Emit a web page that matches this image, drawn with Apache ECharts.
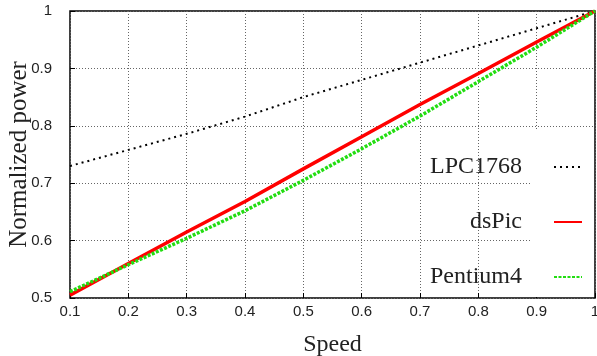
<!DOCTYPE html>
<html>
<head>
<meta charset="utf-8">
<script src="https://cdn.jsdelivr.net/npm/echarts@6/dist/echarts.min.js"></script>
<style>
  html, body { margin: 0; padding: 0; background: #fff; }
  #chart { width: 597px; height: 356px; }
</style>
</head>
<body>
<div id="chart"></div>
<script>
const speed = [0.1, 0.2, 0.3, 0.4, 0.5, 0.6, 0.7, 0.8, 0.9, 1.0];
const lpc1768 = [0.73, 0.758, 0.786, 0.816, 0.85, 0.88, 0.91, 0.94, 0.97, 1.0];
const dsPic = [0.505, 0.56, 0.615, 0.668, 0.725, 0.781, 0.837, 0.891, 0.946, 1.0];
const pentium4 = [0.511, 0.558, 0.604, 0.652, 0.705, 0.76, 0.817, 0.877, 0.937, 1.0];

const serif = '"Liberation Serif", "DejaVu Serif", serif';
const sans = '"Liberation Sans", Arial, sans-serif';

const pairs = arr => speed.map((s, i) => [s, arr[i]]);

const seriesDefs = [
    {name: 'LPC1768', data: pairs(lpc1768), lineStyle: {color: '#000', width: 2, type: [2, 4]}},
    {name: 'dsPic', data: pairs(dsPic), lineStyle: {color: '#ff0000', width: 3.5, type: 'solid'}},
    {name: 'Pentium4', data: pairs(pentium4), lineStyle: {color: '#22dd11', width: 3.5, type: [3, 1.5]}}
];

const legendTops = [150, 205, 260];

const chart = echarts.init(document.getElementById('chart'));
chart.setOption({
    animation: false,
    grid: {
        left: 70, right: 2, top: 11, bottom: 58,
        outerBoundsMode: 'none', containLabel: false,
        show: true, borderColor: '#000', borderWidth: 1.5, backgroundColor: 'transparent'
    },
    graphic: [{
        type: 'rect', z: 1,
        shape: {x: 532, y: 131, width: 62, height: 166},
        style: {fill: '#fff'}
    }],
    legend: seriesDefs.map((s, i) => ({
        data: [s.name],
        right: 9,
        top: legendTops[i],
        align: 'right',
        itemWidth: 28,
        itemHeight: 14,
        z: 5,
        itemStyle: {opacity: 0},
        textStyle: {fontFamily: serif, fontSize: 24, color: '#222', padding: [0, 27, 0, 0]}
    })),
    xAxis: {
        type: 'value', min: 0.1, max: 1, interval: 0.1,
        name: 'Speed', nameLocation: 'middle', nameGap: 35, nameMoveOverlap: false,
        nameTextStyle: {fontFamily: serif, fontSize: 24, color: '#222'},
        axisLine: {show: false},
        axisTick: {show: true, inside: true, length: 5, lineStyle: {color: '#000'}},
        axisLabel: {fontFamily: sans, fontSize: 15, color: '#222', margin: 6},
        splitLine: {show: true, lineStyle: {color: '#666', width: 1, type: [1, 2]}}
    },
    yAxis: {
        type: 'value', min: 0.5, max: 1, interval: 0.1,
        name: 'Normalized power', nameLocation: 'middle', nameGap: 38, nameMoveOverlap: false,
        nameTextStyle: {fontFamily: serif, fontSize: 25, color: '#222'},
        axisLine: {show: false},
        axisTick: {show: true, inside: true, length: 5, lineStyle: {color: '#000'}},
        axisLabel: {fontFamily: sans, fontSize: 15, color: '#222', margin: 18},
        splitLine: {show: true, lineStyle: {color: '#666', width: 1, type: [1, 2]}}
    },
    series: seriesDefs.map(s => ({
        ...s,
        type: 'line',
        symbol: 'none',
        z: 3,
        itemStyle: {color: s.lineStyle.color}
    }))
});
</script>
</body>
</html>
